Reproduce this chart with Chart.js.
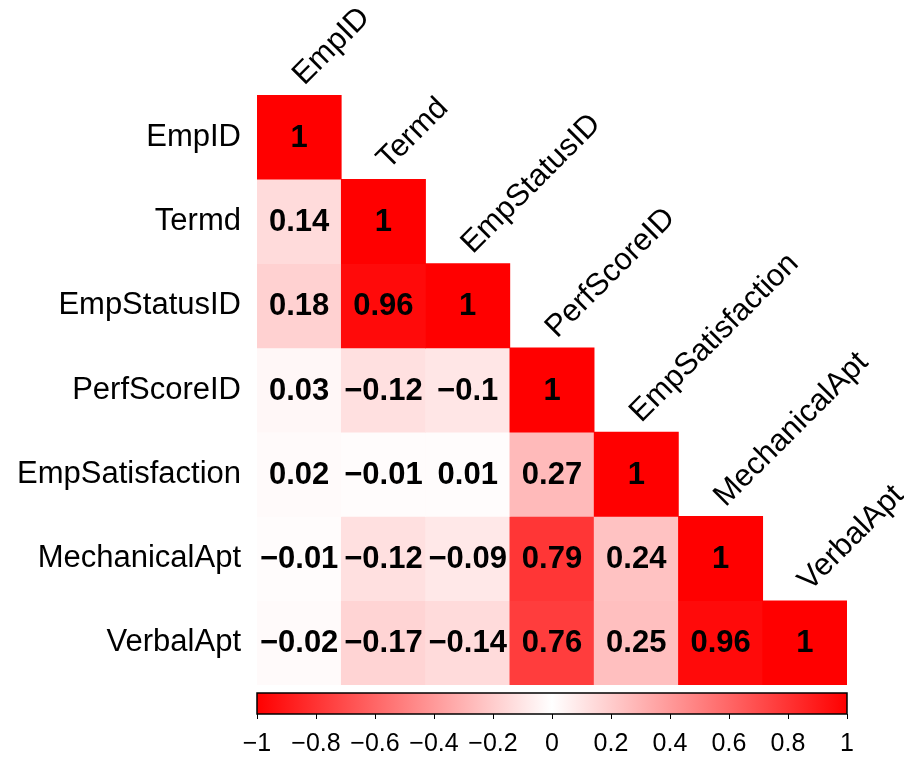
<!DOCTYPE html>
<html>
<head>
<meta charset="utf-8">
<script src="https://cdn.jsdelivr.net/npm/chart.js@4"></script>
<style>
  body { margin: 0; background: #fff; }
</style>
</head>
<body>
<canvas id="corrChart" width="904" height="758"></canvas>
<script>
// variable names (rows top to bottom, columns left to right)
const vars = ['EmpID', 'Termd', 'EmpStatusID', 'PerfScoreID', 'EmpSatisfaction', 'MechanicalApt', 'VerbalApt'];

// lower triangle of the correlation matrix, one array per row
const rowEmpID = [1];
const rowTermd = [0.14, 1];
const rowEmpStatusID = [0.18, 0.96, 1];
const rowPerfScoreID = [0.03, -0.12, -0.1, 1];
const rowEmpSatisfaction = [0.02, -0.01, 0.01, 0.27, 1];
const rowMechanicalApt = [-0.01, -0.12, -0.09, 0.79, 0.24, 1];
const rowVerbalApt = [-0.02, -0.17, -0.14, 0.76, 0.25, 0.96, 1];
const corrRows = [rowEmpID, rowTermd, rowEmpStatusID, rowPerfScoreID, rowEmpSatisfaction, rowMechanicalApt, rowVerbalApt];

// colour legend ticks
const legendTicks = [-1, -0.8, -0.6, -0.4, -0.2, 0, 0.2, 0.4, 0.6, 0.8, 1];

const FONT = "'Liberation Sans', Arial, sans-serif";

function cellColor(v) {
    const g = Math.round(255 * (1 - Math.abs(v)));
    return 'rgb(255,' + g + ',' + g + ')';
}

function fmt(v) {
    const s = String(Math.round(v * 100) / 100);
    return s.replace('-', '\u2212');
}

// one floating-bar dataset per row, bars span [row, row+1] on the y scale
const datasets = corrRows.map(function (row, i) {
    return {
        label: vars[i],
        data: vars.map(function (_, j) { return j < row.length ? [i, i + 1] : null; }),
        backgroundColor: vars.map(function (_, j) { return j < row.length ? cellColor(row[j]) : 'transparent'; }),
        borderWidth: 0,
        grouped: false,
        barPercentage: 1,
        categoryPercentage: 1
    };
});

// numbers in cells, diagonal column labels and the colour bar
const corrDecor = {
    id: 'corrDecor',
    afterDatasetsDraw: function (chart) {
        const ctx = chart.ctx;
        const x = chart.scales.x, y = chart.scales.y, cb = chart.scales.cb;
        const area = chart.chartArea;

        ctx.save();
        ctx.fillStyle = '#000';
        ctx.textAlign = 'center';
        ctx.textBaseline = 'middle';
        ctx.font = 'bold 31px ' + FONT;
        corrRows.forEach(function (row, i) {
            row.forEach(function (v, j) {
                ctx.fillText(fmt(v), x.getPixelForValue(j), y.getPixelForValue(i + 0.5) + 1);
            });
        });

        // rotated column labels above the diagonal
        ctx.font = '31px ' + FONT;
        ctx.textAlign = 'left';
        ctx.textBaseline = 'alphabetic';
        vars.forEach(function (name, j) {
            ctx.save();
            ctx.translate(x.getPixelForValue(j) + 5, y.getPixelForValue(j) - 9);
            ctx.rotate(-Math.PI / 4);
            ctx.fillText(name, 0, 0);
            ctx.restore();
        });

        // colour bar
        const left = cb.getPixelForValue(-1), right = cb.getPixelForValue(1);
        const top = area.bottom + 8, h = 21;
        const grad = ctx.createLinearGradient(left, 0, right, 0);
        grad.addColorStop(0, '#ff0000');
        grad.addColorStop(0.5, '#ffffff');
        grad.addColorStop(1, '#ff0000');
        ctx.fillStyle = grad;
        ctx.fillRect(left, top, right - left, h);
        ctx.strokeStyle = '#000';
        ctx.lineWidth = 1.5;
        ctx.strokeRect(left, top, right - left, h);
        ctx.lineWidth = 1;
        legendTicks.forEach(function (t) {
            const px = Math.round(cb.getPixelForValue(t)) + 0.5;
            ctx.beginPath();
            ctx.moveTo(px, top + h);
            ctx.lineTo(px, top + h + 5);
            ctx.stroke();
        });
        ctx.restore();
    }
};

new Chart(document.getElementById('corrChart'), {
    type: 'bar',
    data: { labels: vars, datasets: datasets },
    options: {
        responsive: false,
        animation: false,
        layout: { padding: { top: 95, right: 57, left: 0, bottom: 0 } },
        plugins: {
            legend: { display: false },
            tooltip: { enabled: false }
        },
        scales: {
            x: { type: 'category', display: false, offset: true },
            y: {
                type: 'linear',
                min: 0,
                max: 7,
                reverse: true,
                grid: { display: false, drawTicks: false },
                border: { display: false },
                afterBuildTicks: function (axis) {
                    axis.ticks = vars.map(function (_, i) { return { value: i + 0.5 }; });
                },
                afterFit: function (axis) { axis.width = 257; },
                ticks: {
                    color: '#000',
                    padding: 16,
                    font: { family: FONT, size: 31 },
                    callback: function (v) { return vars[Math.floor(v)]; }
                }
            },
            cb: {
                type: 'linear',
                position: 'bottom',
                offset: false,
                min: -1,
                max: 1,
                grid: { display: false, drawTicks: false, offset: false },
                border: { display: false },
                afterBuildTicks: function (axis) {
                    axis.ticks = legendTicks.map(function (t) { return { value: t }; });
                },
                afterFit: function (axis) { axis.height = 73; },
                ticks: {
                    color: '#000',
                    padding: 44,
                    autoSkip: false,
                    maxRotation: 0,
                    font: { family: FONT, size: 25 },
                    callback: function (v) { return fmt(v); }
                }
            }
        }
    },
    plugins: [corrDecor]
});
</script>
</body>
</html>
